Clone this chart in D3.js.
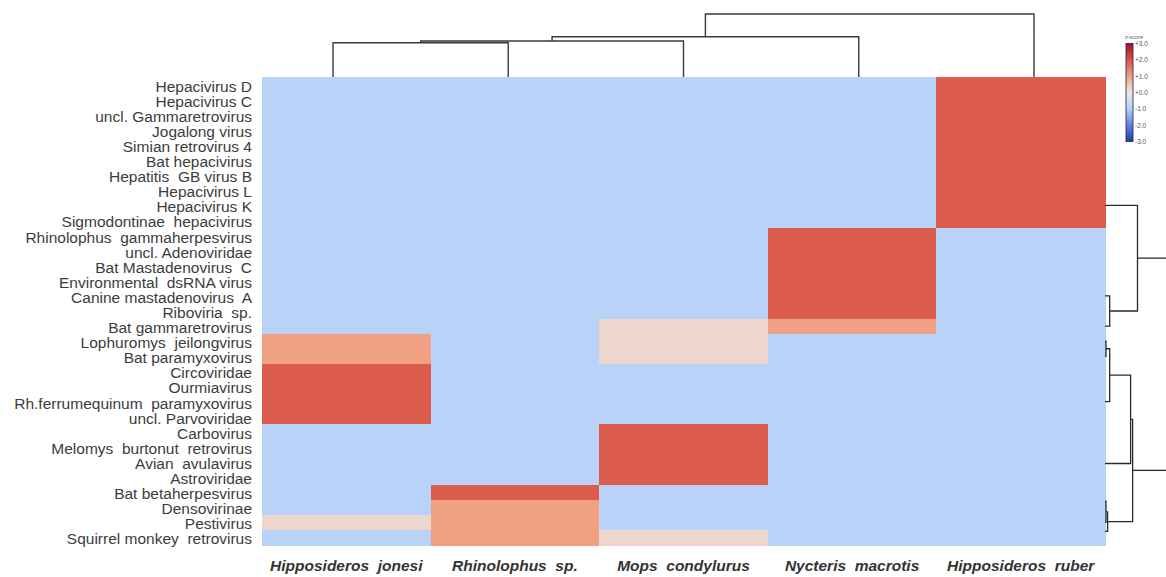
<!DOCTYPE html>
<html>
<head>
<meta charset="utf-8">
<script src="https://cdn.jsdelivr.net/npm/d3@7"></script>
<style>
  body { margin: 0; background: #fff; }
  text { font-family: "Liberation Sans", Arial, sans-serif; white-space: pre; }
</style>
</head>
<body>
<div id="chart"></div>
<script>
// row labels (viruses), top to bottom
const viruses = [
  'Hepacivirus D', 'Hepacivirus C', 'uncl. Gammaretrovirus', 'Jogalong virus',
  'Simian retrovirus 4', 'Bat hepacivirus', 'Hepatitis  GB virus B', 'Hepacivirus L',
  'Hepacivirus K', 'Sigmodontinae  hepacivirus', 'Rhinolophus  gammaherpesvirus',
  'uncl. Adenoviridae', 'Bat Mastadenovirus  C', 'Environmental  dsRNA virus',
  'Canine mastadenovirus  A', 'Riboviria  sp.', 'Bat gammaretrovirus',
  'Lophuromys  jeilongvirus', 'Bat paramyxovirus', 'Circoviridae', 'Ourmiavirus',
  'Rh.ferrumequinum  paramyxovirus', 'uncl. Parvoviridae', 'Carbovirus',
  'Melomys  burtonut  retrovirus', 'Avian  avulavirus', 'Astroviridae',
  'Bat betaherpesvirus', 'Densovirinae', 'Pestivirus', 'Squirrel monkey  retrovirus'
]

// column labels (bat species)
const bats = ['Hipposideros  jonesi', 'Rhinolophus  sp.', 'Mops  condylurus',
  'Nycteris  macrotis', 'Hipposideros  ruber']

// z-scores per bat, one value per virus row
const zJonesi = [-1, -1, -1, -1, -1, -1, -1, -1, -1, -1, -1, -1, -1, -1, -1, -1,
  -1, 1.0, 1.0, 1.9, 1.9, 1.9, 1.9, -1, -1, -1, -1, -1, -1, 0.25, -1]
const zRhinolophus = [-1, -1, -1, -1, -1, -1, -1, -1, -1, -1, -1, -1, -1, -1, -1, -1,
  -1, -1, -1, -1, -1, -1, -1, -1, -1, -1, -1, 1.9, 1.0, 1.0, 1.0]
const zMops = [-1, -1, -1, -1, -1, -1, -1, -1, -1, -1, -1, -1, -1, -1, -1, -1,
  0.25, 0.25, 0.25, -1, -1, -1, -1, 1.9, 1.9, 1.9, 1.9, -1, -1, -1, 0.25]
const zNycteris = [-1, -1, -1, -1, -1, -1, -1, -1, -1, -1, 1.9, 1.9, 1.9, 1.9, 1.9, 1.9,
  1.0, -1, -1, -1, -1, -1, -1, -1, -1, -1, -1, -1, -1, -1, -1]
const zRuber = [1.9, 1.9, 1.9, 1.9, 1.9, 1.9, 1.9, 1.9, 1.9, 1.9, -1, -1, -1, -1, -1, -1,
  -1, -1, -1, -1, -1, -1, -1, -1, -1, -1, -1, -1, -1, -1, -1]
const zSeries = [zJonesi, zRhinolophus, zMops, zNycteris, zRuber]

// legend ticks
const legendTicks = [3, 2, 1, 0, -1, -2, -3]

// column dendrogram: [left, right, height], leaves 0..4, merges 5..8
const colMerges = [[0, 1, 3.43], [5, 2, 3.6], [6, 3, 4.03], [7, 4, 6.3]]

// row dendrogram: leaf positions (in row units) and merges [a, b, height]
const rowLeaves = [8, 14, 16, 17, 18, 21, 25.1, 27.6, 29.0, 29.6]
const rowMerges = [[1, 2, 0.72], [0, 10, 5.0], [3, 4, 0.15], [12, 5, 0.72],
  [13, 6, 3.94], [7, 8, 0.15], [15, 9, 0.4], [14, 16, 4.25], [11, 17, 11.5]]

let dms = {
  width: 1166,
  height: 577,
  left: 262,
  right: 1105,
  top: 77,
  bottom: 545
}

const svg = d3.select('#chart').append('svg')
  .attr('width', dms.width)
  .attr('height', dms.height)

const xScale = d3.scaleBand()
  .domain(d3.range(bats.length))
  .range([dms.left, dms.right])

const yScale = d3.scaleBand()
  .domain(d3.range(viruses.length))
  .range([dms.top, dms.bottom])

const colorScale = d3.scaleLinear()
  .domain([-3, -2, -1, 0, 1, 2, 3])
  .range(['#1f3fa8', '#5f82dc', '#b8d2f8', '#ece8e6', '#f0a083', '#da5548', '#a5121e'])

// cells
const cells = []
zSeries.forEach((s, c) => s.forEach((v, r) => cells.push({ c, r, v })))

svg.append('g')
  .attr('shape-rendering', 'crispEdges')
  .selectAll('rect')
  .data(cells)
  .join('rect')
  .attr('x', d => xScale(d.c))
  .attr('y', d => yScale(d.r))
  .attr('width', xScale.bandwidth() + 0.5)
  .attr('height', yScale.bandwidth() + 0.5)
  .attr('fill', d => colorScale(d.v))

// row labels
svg.append('g').selectAll('text')
  .data(viruses)
  .join('text')
  .attr('x', 252)
  .attr('y', (d, i) => yScale(i) + yScale.bandwidth() / 2 + 1.5)
  .attr('text-anchor', 'end')
  .attr('dominant-baseline', 'central')
  .attr('font-size', 15.5)
  .attr('fill', '#3c3c3c')
  .text(d => d)

// column labels
svg.append('g').selectAll('text')
  .data(bats)
  .join('text')
  .attr('x', (d, i) => xScale(i) + xScale.bandwidth() / 2)
  .attr('y', 571)
  .attr('text-anchor', 'middle')
  .attr('font-size', 15.5)
  .attr('font-weight', 'bold')
  .attr('font-style', 'italic')
  .attr('fill', '#333')
  .text(d => d)

// dendrogram helper: builds elbow links from merges
const dendroLinks = (leafPos, merges) => {
  const n = leafPos.length
  const pos = leafPos.slice()
  const h = leafPos.map(() => 0)
  const links = []
  merges.forEach(([a, b, height], i) => {
    links.push({ a: { p: pos[a], h: h[a] }, b: { p: pos[b], h: h[b] }, h: height })
    pos[n + i] = (pos[a] + pos[b]) / 2
    h[n + i] = height
  })
  return links
}

// column dendrogram (top)
const colPos = d3.scaleLinear().domain([0, bats.length - 1]).range([333, 1034])
const colHeight = d3.scaleLinear().domain([0, 6.3]).range([dms.top, 14])

svg.append('g').selectAll('path')
  .data(dendroLinks(d3.range(bats.length), colMerges))
  .join('path')
  .attr('d', d => `M${colPos(d.a.p)},${colHeight(d.a.h)}V${colHeight(d.h)}` +
    `H${colPos(d.b.p)}V${colHeight(d.b.h)}`)
  .attr('fill', 'none')
  .attr('stroke', '#3a3a3a')
  .attr('stroke-width', 1.4)

// row dendrogram (right)
const rowPos = p => yScale(0) + (p + 0.5) * yScale.step()
const rowHeight = d3.scaleLinear().domain([0, 10]).range([dms.right, dms.right + 65])

svg.append('g').selectAll('path')
  .data(dendroLinks(rowLeaves, rowMerges))
  .join('path')
  .attr('d', d => `M${rowHeight(d.a.h)},${rowPos(d.a.p)}H${rowHeight(d.h)}` +
    `V${rowPos(d.b.p)}H${rowHeight(d.b.h)}`)
  .attr('fill', 'none')
  .attr('stroke', '#2a2a2a')
  .attr('stroke-width', 1.3)

// legend
const legendY = d3.scaleLinear().domain([3, -3]).range([43.5, 141.5])
const grad = svg.append('defs').append('linearGradient')
  .attr('id', 'zgrad')
  .attr('x1', 0).attr('y1', 0).attr('x2', 0).attr('y2', 1)
grad.selectAll('stop')
  .data(d3.range(3, -3.01, -0.5))
  .join('stop')
  .attr('offset', d => (3 - d) / 6)
  .attr('stop-color', d => colorScale(d))

const legend = svg.append('g')
legend.append('rect')
  .attr('x', 1126)
  .attr('y', legendY(3))
  .attr('width', 7)
  .attr('height', legendY(-3) - legendY(3))
  .attr('fill', 'url(#zgrad)')
  .attr('stroke', '#1c1c4a')
  .attr('stroke-width', 0.8)

legend.selectAll('.tick')
  .data(legendTicks)
  .join('text')
  .attr('class', 'tick')
  .attr('x', 1135)
  .attr('y', d => legendY(d))
  .attr('dominant-baseline', 'central')
  .attr('font-size', 6.5)
  .attr('fill', '#555')
  .text(d => (d >= 0 ? '+' : '') + d.toFixed(1))

legend.append('text')
  .attr('x', 1134)
  .attr('y', 39)
  .attr('text-anchor', 'middle')
  .attr('font-size', 5.5)
  .attr('font-style', 'italic')
  .attr('fill', '#555')
  .text('z-score')
</script>
</body>
</html>
